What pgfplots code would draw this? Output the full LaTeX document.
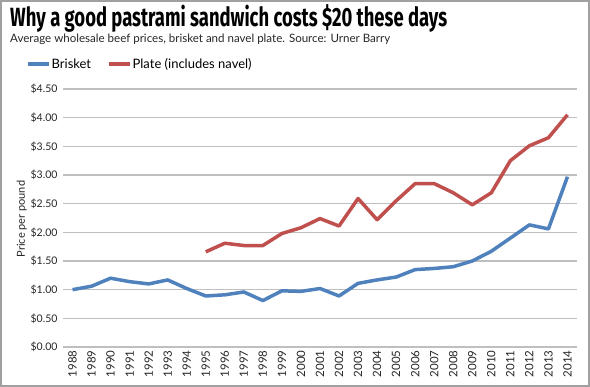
\documentclass[border=0pt]{standalone}
\usepackage{fontspec}
\setmainfont{Lato}
\newfontfamily\titlefont[FakeStretch=0.7]{Fira Sans}
\usepackage{pgfplots}
\pgfplotsset{compat=1.18}
\definecolor{brisket}{HTML}{4F81BD}
\definecolor{plate}{HTML}{C0504D}
\definecolor{gridc}{HTML}{BFBFBF}
\definecolor{framec}{HTML}{A0A0A0}
\definecolor{txt}{HTML}{262626}
\begin{document}
\begin{tikzpicture}
\path (0pt,0pt) rectangle (590pt,-387pt);
\draw[framec, line width=2pt] (1pt,-1pt) rectangle (589pt,-386pt);
\node[anchor=base west, inner sep=0pt, text=black] at (10pt,-26.7pt)
  {\resizebox{437pt}{!}{\titlefont\bfseries Why a good pastrami sandwich costs \$20 these days}};
\node[anchor=base west, inner sep=0pt, text=txt] at (10pt,-43pt)
  {\resizebox{380pt}{!}{Average wholesale beef prices, brisket and navel plate. Source: Urner Barry}};
\begin{axis}[
  at={(63pt,-347pt)}, anchor=south west,
  scale only axis, width=514pt, height=258pt,
  xmin=1987.5, xmax=2014.5, ymin=0, ymax=4.5,
  axis line style={draw=none},
  major tick length=0pt,
  ymajorgrids, major grid style={gridc, line width=1.3pt},
  xtick={1988,...,2014},
  xticklabel style={rotate=90, anchor=east, font=\fontsize{11.5}{12}\selectfont, text=txt, /pgf/number format/1000 sep={}},
  /pgf/number format/assume math mode=true,
  xticklabel={\pgfmathprintnumber[1000 sep={}]{\tick}},
  ytick={0,0.5,...,4.5},
  yticklabels={\$0.00,\$0.50,\$1.00,\$1.50,\$2.00,\$2.50,\$3.00,\$3.50,\$4.00,\$4.50},
  yticklabel style={font=\fontsize{10.5}{12}\selectfont, text=txt, xshift=-2pt},
  ylabel={Price per pound},
  ylabel style={at={(axis description cs:-0.08,0.496)}, anchor=center, font=\fontsize{11}{12}\selectfont, text=txt},
  legend style={at={(axis description cs:-0.072,1.097)}, anchor=west, draw=none, fill=none,
    font=\fontsize{13}{14}\selectfont, text=black, inner sep=0pt,
    nodes={inner sep=1pt},
    /tikz/every even column/.append style={column sep=15pt}},
  legend columns=2,
  legend image code/.code={\draw[#1, line width=3.5pt] (0pt,0pt) -- (21pt,0pt);},
]
\addplot[brisket, line width=3.5pt, line join=round] coordinates {
(1988,1.00) (1989,1.06) (1990,1.20) (1991,1.14) (1992,1.10) (1993,1.17)
(1994,1.02) (1995,0.89) (1996,0.91) (1997,0.96) (1998,0.81) (1999,0.98)
(2000,0.97) (2001,1.02) (2002,0.89) (2003,1.11) (2004,1.17) (2005,1.22)
(2006,1.35) (2007,1.37) (2008,1.40) (2009,1.50) (2010,1.67) (2011,1.90)
(2012,2.13) (2013,2.06) (2014,2.97)};
\addlegendentry{Brisket}
\addplot[plate, line width=3.5pt, line join=round] coordinates {
(1995,1.66) (1996,1.81) (1997,1.77) (1998,1.77) (1999,1.98) (2000,2.08)
(2001,2.24) (2002,2.11) (2003,2.59) (2004,2.22) (2005,2.55) (2006,2.85)
(2007,2.85) (2008,2.69) (2009,2.48) (2010,2.69) (2011,3.25) (2012,3.51)
(2013,3.65) (2014,4.05)};
\addlegendentry{Plate (includes navel)}
\end{axis}
\end{tikzpicture}
\end{document}
